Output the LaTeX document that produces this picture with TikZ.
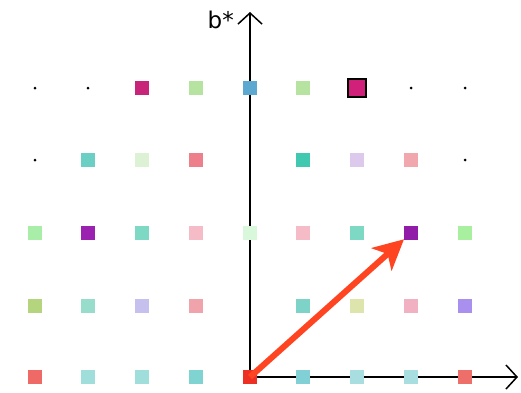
\documentclass[tikz,border=0pt]{standalone}
\usepackage{fontspec}
\setmainfont{DejaVu Sans}
\usetikzlibrary{arrows.meta}
\definecolor{cA}{HTML}{C8247A}
\definecolor{cB}{HTML}{B6E3A0}
\definecolor{cC}{HTML}{5BA8D0}
\definecolor{cD}{HTML}{D0207A}
\definecolor{cE}{HTML}{6CCFC4}
\definecolor{cF}{HTML}{DDF2D5}
\definecolor{cG}{HTML}{EC7F8A}
\definecolor{cH}{HTML}{40C9B0}
\definecolor{cI}{HTML}{DCC9EC}
\definecolor{cJ}{HTML}{F1A7AE}
\definecolor{cK}{HTML}{A8EEA8}
\definecolor{cL}{HTML}{9B22B0}
\definecolor{cM}{HTML}{7DD8C4}
\definecolor{cN}{HTML}{F5BBC6}
\definecolor{cO}{HTML}{D9F7DA}
\definecolor{cP}{HTML}{901CA8}
\definecolor{cQ}{HTML}{A8F0A0}
\definecolor{cR}{HTML}{B5D47E}
\definecolor{cS}{HTML}{98DCCB}
\definecolor{cT}{HTML}{C5C0EE}
\definecolor{cU}{HTML}{F1A3AC}
\definecolor{cV}{HTML}{7DD3C8}
\definecolor{cW}{HTML}{DDE4AC}
\definecolor{cX}{HTML}{F2B0C3}
\definecolor{cY}{HTML}{AA90EE}
\definecolor{cZ}{HTML}{EF6A66}
\definecolor{ca}{HTML}{A0DEDC}
\definecolor{cb}{HTML}{7FD3D1}
\definecolor{cc}{HTML}{EE3024}
\definecolor{cd}{HTML}{80D0D6}
\definecolor{ce}{HTML}{A8DEE0}
\definecolor{cf}{HTML}{EE6F6A}
\definecolor{vec}{HTML}{FF4422}
\tikzset{
  sq/.style={draw=none, fill=#1, minimum size=14pt, inner sep=0pt, outer sep=0pt},
  sqb/.style={draw=black, line width=2pt, fill=#1, minimum size=18pt, inner sep=0pt},
  pt/.style={circle, fill=black, minimum size=3pt, inner sep=0pt},
  axis/.style={line width=2.2pt, -{Straight Barb[length=11pt,width=24pt,line width=1.5pt]}},
  vector/.style={line width=6pt, draw=vec, -{Stealth[length=30pt,width=30pt,inset=8pt]}}
}
\begin{document}
\begin{tikzpicture}[x=1pt,y=-1pt]
\useasboundingbox (0,0) rectangle (521,392);
\fill[white] (0,0) rectangle (521,392);
\coordinate (o) at (250,377);
\coordinate (ytop) at (250,12);
\coordinate (xend) at (518,377);
\draw[axis] (o) -- (ytop);
\draw[axis] (o) -- (xend);
\node[font=\fontsize{23}{23}\selectfont, anchor=east, inner sep=0pt] (blab) at (234,20) {b*};
% row 1
\node[pt] (c0r1) at (35,88) {};
\node[pt] (c1r1) at (88,88) {};
\node[sq=cA] (c2r1) at (142,88) {};
\node[sq=cB] (c3r1) at (196,88) {};
\node[sq=cC] (c4r1) at (250,88) {};
\node[sq=cB] (c5r1) at (303,88) {};
\node[sqb=cD] (c6r1) at (357,88) {};
\node[pt] (c7r1) at (411,88) {};
\node[pt] (c8r1) at (465,88) {};
% row 2
\node[pt] (c0r2) at (35,160) {};
\node[sq=cE] (c1r2) at (88,160) {};
\node[sq=cF] (c2r2) at (142,160) {};
\node[sq=cG] (c3r2) at (196,160) {};
\node[sq=cH] (c5r2) at (303,160) {};
\node[sq=cI] (c6r2) at (357,160) {};
\node[sq=cJ] (c7r2) at (411,160) {};
\node[pt] (c8r2) at (465,160) {};
% row 3
\node[sq=cK] (c0r3) at (35,233) {};
\node[sq=cL] (c1r3) at (88,233) {};
\node[sq=cM] (c2r3) at (142,233) {};
\node[sq=cN] (c3r3) at (196,233) {};
\node[sq=cO] (c4r3) at (250,233) {};
\node[sq=cN] (c5r3) at (303,233) {};
\node[sq=cM] (c6r3) at (357,233) {};
\node[sq=cP] (c7r3) at (411,233) {};
\node[sq=cQ] (c8r3) at (465,233) {};
% row 4
\node[sq=cR] (c0r4) at (35,306) {};
\node[sq=cS] (c1r4) at (88,306) {};
\node[sq=cT] (c2r4) at (142,306) {};
\node[sq=cU] (c3r4) at (196,306) {};
\node[sq=cV] (c5r4) at (303,306) {};
\node[sq=cW] (c6r4) at (357,306) {};
\node[sq=cX] (c7r4) at (411,306) {};
\node[sq=cY] (c8r4) at (465,306) {};
% row 5
\node[sq=cZ] (c0r5) at (35,377) {};
\node[sq=ca] (c1r5) at (88,377) {};
\node[sq=ca] (c2r5) at (142,377) {};
\node[sq=cb] (c3r5) at (196,377) {};
\node[sq=cc] (c4r5) at (o) {};
\node[sq=cd] (c5r5) at (303,377) {};
\node[sq=ce] (c6r5) at (357,377) {};
\node[sq=ce] (c7r5) at (411,377) {};
\node[sq=cf] (c8r5) at (465,377) {};
% vector
\draw[vector, shorten >=0pt] (c4r5.center) -- (c7r3);
\end{tikzpicture}
\end{document}
